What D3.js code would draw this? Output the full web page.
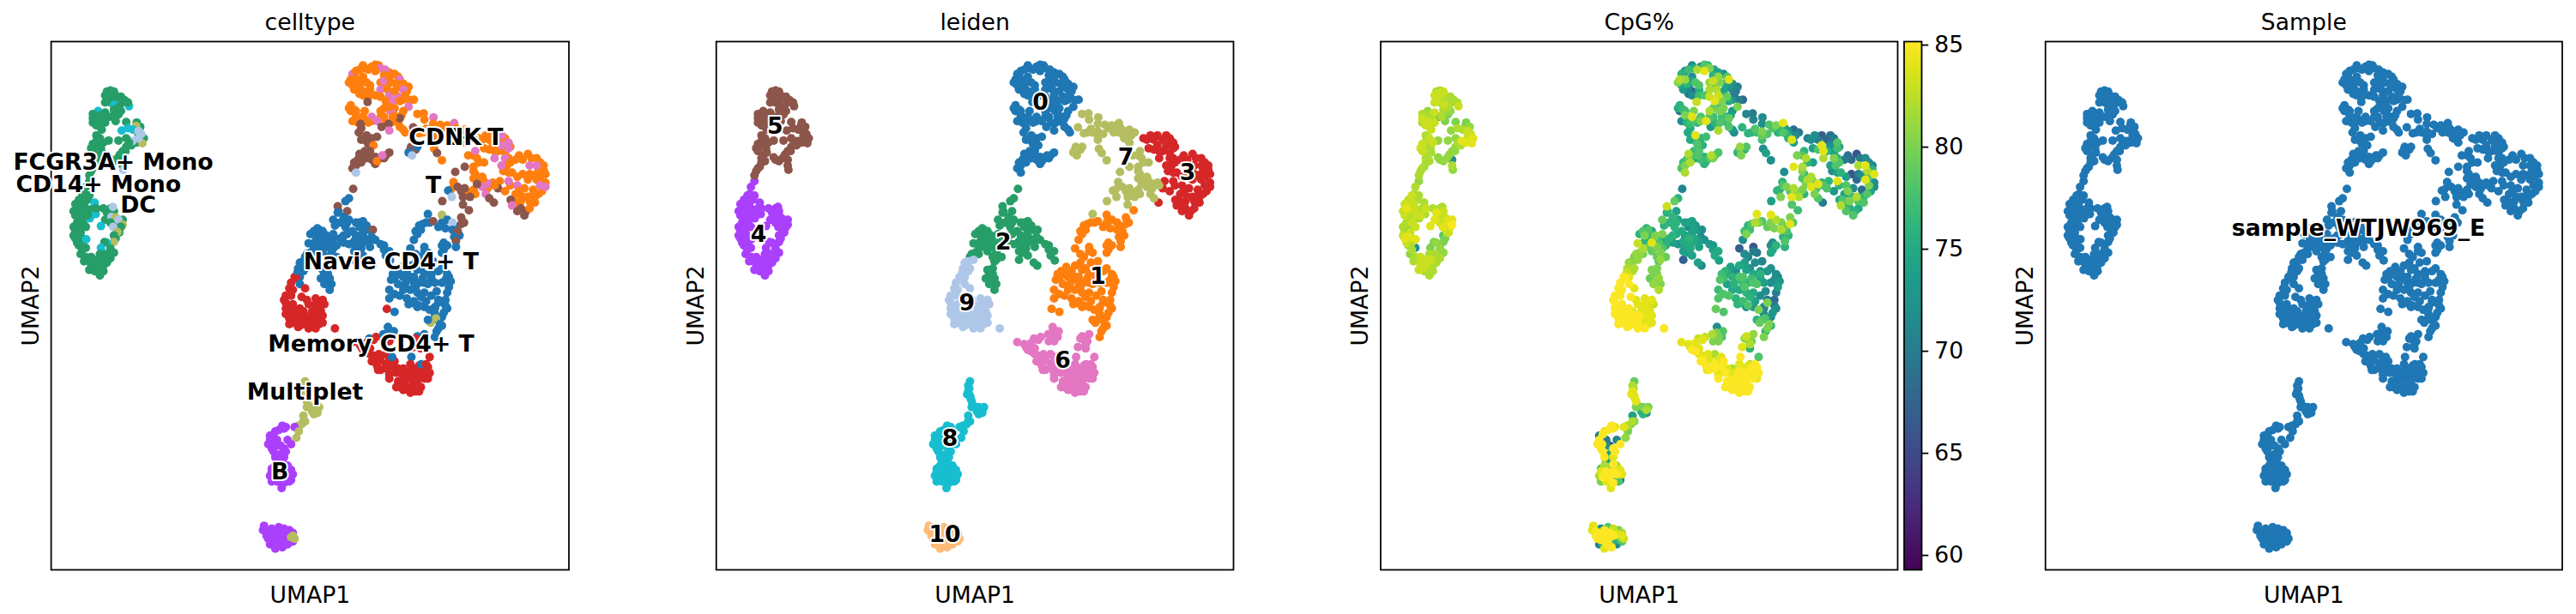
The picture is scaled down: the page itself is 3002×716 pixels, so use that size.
<!DOCTYPE html>
<html><head><meta charset="utf-8">
<script src="https://cdnjs.cloudflare.com/ajax/libs/d3/7.8.5/d3.min.js"></script>
<style>html,body{margin:0;padding:0;background:#fff}svg{display:block}text{font-family:"DejaVu Sans",sans-serif;fill:#000}</style>
</head><body><svg id="fig" width="3002" height="716"></svg>
<script>
// Cell types: index is the third value of each point.
const celltypes=["Navie CD4+ T","T","CD14+ Mono","Memory CD4+ T","B","CD8+ T","NK","Multiplet","FCGR3A+ Mono","DC"];
const celltypeColors=["#1f77b4","#ff7f0e","#279e68","#d62728","#aa40fc","#8c564b","#e377c2","#b5bd61","#17becf","#aec7e8"];
const leidenColors=["#1f77b4","#ff7f0e","#279e68","#d62728","#aa40fc","#8c564b","#e377c2","#b5bd61","#17becf","#aec7e8","#ffbb78"];
const sampleName="sample_WTJW969_E";
// Points: [UMAP1, UMAP2 (picture-down), celltype index, CpG%]
const leiden0=[[900,175,1,72],[930,150,1,75],[950,145,1,71],[970,140,1,76],[1000,165,1,74],[1025,180,1,78],[1050,230,1,70],[885,200,1,80],[910,205,1,76],[900,225,1,73],[945,210,1,78],[925,195,1,74],[975,200,1,81],[990,215,1,79],[1030,215,1,73],[925,245,1,72],[945,245,1,77],[1040,260,1,72],[1060,262,1,70],[885,290,1,75],[905,300,1,76],[930,330,1,78],[950,335,1,80],[975,320,1,78],[990,340,1,76],[1010,335,1,75],[1025,340,1,77],[1035,315,1,74],[1010,300,1,79],[910,340,1,76],[920,360,5,75],[1040,365,1,73],[935,405,5,75],[950,395,5,76],[925,455,5,77],[940,455,5,78],[960,460,5,76],[990,455,5,78],[900,480,5,77],[915,465,5,79],[960,485,5,76],[975,465,5,78],[895,170,6,76],[925,140,1,72],[960,138,1,78],[988,155,6,74],[1015,170,1,72],[905,160,1,73],[915,155,1,77],[940,155,1,82],[975,150,6,80],[890,190,1,82],[905,190,1,81],[925,180,1,72],[985,175,1,76],[1030,190,6,84],[1040,205,1,72],[1055,215,1,71],[895,210,1,74],[915,215,1,72],[935,200,1,78],[985,195,6,83],[1005,200,1,80],[1020,205,1,74],[1040,225,6,71],[925,230,1,68],[915,240,1,70],[945,225,1,75],[975,225,6,82],[995,225,1,82],[1000,245,6,83],[1025,250,6,79],[1045,245,1,70],[1070,260,1,68],[1055,285,6,80],[960,245,1,78],[938,268,5,83],[975,250,1,83],[990,265,1,84],[1010,265,6,80],[1030,265,1,75],[1015,290,1,80],[1040,300,1,73],[890,280,1,76],[900,295,1,77],[890,300,1,68],[905,315,1,80],[895,335,1,72],[925,320,1,84],[950,320,6,78],[975,300,1,82],[985,320,1,77],[1003,300,6,80],[1020,320,1,76],[1030,325,5,79],[940,340,1,76],[918,345,5,77],[965,335,6,84],[1005,340,1,78],[1030,355,1,78],[1045,375,1,72],[998,345,5,76],[978,355,5,73],[1000,368,6,82],[913,375,5,75],[935,385,5,84],[920,400,5,75],[945,400,5,76],[965,390,5,77],[940,415,5,78],[955,420,1,76],[930,440,5,77],[945,440,5,78],[915,450,5,82],[910,470,5,76],[935,465,5,75],[950,470,5,77],[965,475,1,76],[985,465,5,80],[1000,445,5,78],[980,455,6,82],[905,490,5,80],[920,480,5,82],[895,500,5,78],[905,515,9,82],[960,160,1,84],[1000,180,1,81],[1015,230,1,74],[930,300,1,80],[1000,285,1,78],[985,290,1,79],[1010,320,1,77]];
const leiden1=[[1115,690,0,80],[1095,695,0,78],[1075,720,0,77],[1150,690,0,80],[1190,705,0,79],[1200,735,0,76],[1100,790,0,70],[1155,785,0,74],[1155,760,0,72],[1060,840,0,75],[1020,860,0,76],[1015,885,0,77],[1040,880,0,76],[1060,880,0,78],[1085,900,0,76],[1100,900,0,78],[1120,885,0,74],[1140,860,0,73],[1160,890,0,72],[1170,880,0,70],[1045,905,0,76],[1070,900,0,77],[1040,925,0,75],[1015,940,0,78],[1080,935,0,76],[1100,935,0,75],[1055,975,0,76],[1075,975,0,74],[1100,985,0,73],[1165,990,0,72],[1125,1030,0,78],[1140,1030,0,74],[1150,1050,0,76],[1140,1060,0,80],[1130,985,0,71],[1120,860,0,73],[1105,830,0,72],[1085,810,0,71],[1227,647,5,77],[1150,663,7,84],[1205,672,5,80],[1213,690,5,78],[1105,690,0,82],[1085,700,0,76],[1125,685,5,78],[1165,680,0,82],[1180,690,9,80],[1140,705,0,79],[1160,710,0,80],[1180,715,0,82],[1205,695,5,84],[1195,720,5,78],[1185,740,0,76],[1190,755,5,78],[1080,730,0,80],[1070,750,0,72],[1090,715,0,77],[1100,775,0,66],[1060,780,0,67],[1110,795,0,70],[1150,770,0,72],[1165,770,0,76],[1150,795,0,75],[1190,775,0,76],[1075,800,0,72],[1035,845,0,74],[1010,870,0,77],[1005,890,0,78],[1030,870,0,74],[1050,860,0,72],[1075,830,0,74],[1090,850,0,72],[1125,825,0,71],[1150,850,0,72],[1165,870,0,72],[1175,895,0,73],[1170,915,0,74],[1050,890,0,76],[1070,880,0,78],[1095,885,0,77],[1110,905,0,78],[1130,900,0,74],[1150,900,0,72],[1075,915,0,78],[1060,925,0,75],[1025,905,0,74],[1000,925,0,77],[1000,955,0,78],[1030,945,0,78],[1050,955,0,76],[1070,965,0,77],[1090,950,0,76],[1120,945,0,72],[1135,930,0,72],[1080,985,0,72],[1105,965,0,74],[1165,935,0,70],[1160,960,0,68],[1130,990,0,71],[993,992,3,79],[1015,1002,0,78],[1085,980,0,78],[1115,995,0,80],[1140,970,0,80],[1160,980,0,70],[1130,1010,0,72],[1150,1020,0,72],[1133,1025,7,78],[1118,1040,7,79],[1145,1045,0,80],[1135,1070,0,76],[1130,1090,0,80],[1155,1005,0,73],[1110,1030,0,76],[1100,870,0,75],[1120,870,0,76],[1080,855,0,74],[1140,960,0,70]];
const leiden2=[[800,715,0,78],[790,735,0,80],[775,730,0,76],[815,745,0,78],[840,745,0,75],[870,735,0,76],[885,680,0,74],[870,690,0,75],[855,650,0,76],[935,700,0,73],[915,690,0,74],[930,710,0,74],[945,755,0,74],[915,745,0,76],[900,755,0,75],[870,760,0,74],[840,780,0,78],[825,775,0,80],[800,775,0,79],[785,780,0,82],[775,795,0,81],[760,810,0,80],[825,810,0,79],[835,820,0,81],[815,870,0,80],[830,885,0,81],[905,780,0,74],[985,770,0,73],[920,780,0,75],[897,572,5,71],[885,605,0,76],[875,615,0,79],[853,633,5,83],[880,650,5,74],[853,655,0,75],[870,670,0,76],[840,680,0,79],[880,690,0,76],[860,690,0,76],[795,710,0,76],[785,720,0,78],[810,720,0,74],[800,735,0,76],[820,735,0,80],[845,700,0,76],[875,705,0,76],[925,685,0,74],[905,690,0,74],[915,705,0,72],[940,715,0,73],[953,715,5,72],[925,725,0,74],[950,740,0,72],[930,745,0,75],[905,735,0,74],[880,730,0,75],[770,762,0,83],[790,755,0,76],[810,760,0,84],[830,760,0,78],[850,770,0,76],[885,765,0,73],[910,770,0,75],[925,760,0,75],[960,750,0,72],[945,775,0,74],[975,765,0,73],[985,785,0,74],[1000,790,0,75],[990,805,0,75],[765,800,0,81],[785,800,0,80],[810,790,0,79],[835,795,0,80],[850,810,0,79],[910,795,0,74],[925,805,0,74],[900,820,0,67],[942,830,0,74],[952,840,0,72],[1002,822,0,74],[830,825,3,78],[825,850,0,80],[810,855,0,80],[825,870,0,80],[805,885,0,79],[820,895,0,80],[835,905,0,80],[830,925,0,82],[815,905,0,81],[895,720,0,75],[860,745,0,76],[840,730,0,80],[900,790,0,74]];
const leiden3=[[1265,400,1,72],[1285,400,1,70],[1310,400,1,68],[1330,395,1,70],[1345,425,1,73],[1285,435,1,78],[1310,440,1,76],[1330,445,1,74],[1340,465,1,76],[1325,510,1,72],[1335,490,1,78],[1360,470,1,70],[1380,470,1,68],[1405,465,1,70],[1430,480,1,72],[1440,505,1,76],[1430,530,1,78],[1410,525,1,72],[1365,530,1,74],[1345,560,1,76],[1360,590,1,74],[1385,570,1,72],[1410,575,1,68],[1435,580,1,74],[1445,550,1,72],[1415,600,1,76],[1400,615,1,78],[1375,615,1,80],[1355,610,1,78],[1370,630,1,76],[1390,650,5,76],[1405,600,1,72],[1340,515,1,74],[1255,395,1,71],[1275,385,1,72],[1295,385,1,67],[1320,385,6,69],[1340,410,6,78],[1270,430,1,74],[1295,420,1,84],[1320,420,6,72],[1340,430,6,77],[1300,440,1,84],[1330,465,6,80],[1320,490,6,74],[1345,480,1,78],[1370,455,1,69],[1395,450,1,66],[1420,465,1,72],[1440,490,1,71],[1445,520,1,84],[1425,510,1,82],[1400,490,6,82],[1350,515,1,76],[1340,545,6,84],[1315,545,1,76],[1310,570,5,78],[1330,580,1,73],[1365,560,6,78],[1395,540,1,68],[1420,540,1,84],[1445,565,6,72],[1425,590,1,78],[1395,600,1,82],[1370,580,1,80],[1346,610,5,75],[1350,630,6,82],[1365,650,5,78],[1385,665,5,78],[1400,640,1,75],[1415,620,1,78],[1298,620,5,70],[1430,560,6,80],[1380,600,1,76],[1380,520,1,66],[1300,465,6,82],[1420,490,6,84],[1400,520,1,70],[1375,640,5,74]];
const leiden4=[[115,610,2,83],[145,595,2,82],[105,625,2,83],[100,650,2,83],[115,655,2,82],[135,640,2,83],[155,640,2,82],[150,665,2,83],[105,665,2,83],[130,680,2,82],[100,705,2,82],[115,705,2,81],[100,735,2,83],[115,740,2,84],[110,760,2,83],[125,760,2,82],[125,785,2,82],[145,825,2,82],[165,820,2,83],[155,850,2,83],[170,855,2,82],[195,810,2,82],[205,800,2,81],[225,700,2,84],[240,680,2,84],[215,650,2,83],[230,725,2,83],[220,745,2,80],[205,640,2,82],[200,675,2,83],[190,680,2,84],[215,675,2,83],[145,545,2,81],[135,565,2,82],[132,590,2,82],[125,595,2,83],[140,610,2,82],[115,625,2,83],[130,625,2,83],[160,620,8,82],[110,640,2,84],[125,645,2,83],[145,650,2,82],[163,660,8,82],[165,640,2,83],[146,675,8,82],[120,665,2,82],[140,665,2,83],[110,690,2,82],[125,690,2,83],[178,702,8,84],[185,640,2,82],[212,635,9,82],[195,655,2,84],[208,670,9,83],[220,672,7,83],[228,680,9,84],[240,697,7,85],[235,705,2,84],[205,690,2,83],[213,705,9,84],[225,723,7,83],[215,735,2,78],[215,758,7,80],[195,760,8,81],[188,758,2,80],[178,778,8,80],[215,795,2,81],[205,815,2,82],[195,830,2,82],[105,720,2,81],[120,725,2,83],[135,705,2,83],[105,745,2,84],[125,745,2,83],[136,748,8,84],[115,770,2,82],[135,778,2,72],[120,800,2,81],[135,810,2,82],[150,810,2,83],[130,825,2,82],[150,835,2,83],[165,840,2,83],[180,820,2,83],[185,840,2,82],[145,855,2,83],[160,860,2,82],[175,875,2,82],[185,860,2,82],[175,800,2,82],[190,800,2,82],[205,780,2,81]];
const leiden5=[[200,240,2,83],[225,255,2,82],[190,270,2,83],[205,270,2,82],[240,270,2,82],[225,300,2,81],[165,315,2,82],[185,325,2,82],[165,350,2,83],[155,340,2,82],[180,365,2,83],[165,385,2,82],[155,415,2,83],[170,415,2,82],[150,430,2,83],[170,455,2,82],[280,340,2,80],[290,355,2,81],[285,385,2,83],[300,395,2,84],[280,410,2,84],[265,420,2,82],[240,440,2,81],[205,470,2,81],[155,500,2,82],[165,465,2,82],[225,465,2,81],[195,232,2,82],[205,228,2,82],[215,232,2,83],[190,245,2,83],[205,245,2,83],[220,245,2,82],[235,250,2,82],[195,258,2,83],[212,258,2,82],[245,262,2,82],[216,278,8,83],[258,283,8,83],[255,270,2,82],[230,285,2,82],[215,295,2,82],[235,300,2,81],[228,312,2,80],[170,300,8,81],[155,310,2,82],[175,315,2,82],[190,305,2,83],[200,320,2,72],[210,320,2,82],[155,325,2,83],[170,335,2,83],[160,340,2,82],[190,340,2,83],[175,350,2,83],[220,335,2,80],[250,338,2,80],[278,352,7,80],[255,360,8,82],[270,365,8,82],[285,370,9,83],[293,380,9,83],[296,412,7,84],[268,405,9,84],[285,395,9,83],[250,425,2,81],[228,403,2,81],[237,368,8,81],[200,403,2,81],[175,395,2,83],[165,405,2,82],[185,410,2,83],[160,425,2,82],[178,430,2,82],[155,440,2,83],[180,445,2,82],[200,462,2,81],[215,475,2,81],[232,452,2,81],[240,470,2,72],[240,490,2,82],[242,505,9,81],[165,480,2,82],[175,475,2,82],[160,495,2,81],[150,510,2,82],[145,525,2,82],[250,395,2,81],[258,410,2,82],[248,440,2,81]];
const leiden6=[[945,1150,3,84],[955,1170,3,85],[975,1170,3,84],[975,1205,3,85],[990,1200,3,85],[1000,1170,3,84],[1015,1175,3,85],[1020,1215,3,85],[1035,1240,3,85],[1030,1265,3,85],[1045,1245,3,85],[1070,1200,3,84],[1095,1200,3,85],[1110,1195,3,85],[1115,1215,3,85],[1110,1235,3,84],[1070,1225,3,85],[1090,1225,3,85],[1045,1215,3,84],[1065,1265,3,85],[1090,1265,3,85],[1085,1280,3,85],[1060,1285,3,85],[1040,1275,3,85],[1075,1240,3,85],[920,1125,3,84],[935,1140,3,85],[955,1100,3,84],[1085,1100,3,80],[1090,1115,3,82],[995,1075,0,80],[1010,1090,3,78],[895,1108,3,84],[915,1115,3,84],[935,1110,3,84],[943,1095,0,83],[962,1090,3,83],[925,1135,3,85],[945,1130,3,84],[996,1055,0,72],[1013,1070,0,78],[983,1080,0,82],[1000,1090,0,80],[985,1105,0,80],[1000,1105,3,80],[1080,1088,0,83],[1100,1080,0,81],[1095,1105,0,80],[1075,1095,3,81],[1068,1125,3,84],[1090,1130,3,76],[1115,1160,3,78],[955,1155,3,84],[970,1150,3,84],[990,1150,3,82],[1008,1160,0,84],[950,1175,3,85],[965,1190,3,85],[990,1185,3,85],[968,1205,3,84],[1010,1195,3,85],[1000,1220,3,84],[1000,1235,3,85],[1025,1245,3,85],[1020,1265,3,85],[1040,1260,3,84],[1063,1160,0,85],[1060,1185,3,84],[1085,1190,3,84],[1091,1185,0,82],[1105,1185,3,85],[1060,1210,3,85],[1080,1215,3,85],[1105,1210,3,85],[1040,1225,3,84],[1060,1240,3,85],[1100,1235,3,85],[1055,1270,3,85],[1075,1280,3,85],[1025,1200,3,84],[1040,1200,3,82],[1055,1225,3,85],[1080,1250,3,85]];
const leiden7=[[1110,375,1,77],[1125,385,1,79],[1095,375,1,76],[1155,360,1,78],[1175,360,1,76],[1185,375,1,78],[1200,370,1,72],[1200,395,1,76],[1220,385,1,72],[1215,410,1,74],[1075,435,5,76],[1060,435,5,78],[1240,455,1,78],[1255,480,1,76],[1240,510,1,80],[1255,540,1,82],[1280,570,1,78],[1295,550,1,76],[1270,545,1,80],[1205,580,5,78],[1225,585,1,80],[1245,590,1,76],[1185,560,1,78],[1175,575,1,76],[1080,310,1,71],[1098,308,1,70],[1126,322,6,72],[1100,330,1,71],[1125,345,1,72],[1068,357,5,76],[1085,378,1,76],[1105,362,1,78],[1125,372,1,80],[1140,380,1,78],[1125,400,1,77],[1145,348,1,78],[1165,350,1,80],[1185,342,6,84],[1190,360,1,74],[1215,365,1,68],[1170,375,1,76],[1195,380,1,76],[1210,400,1,84],[1230,375,1,70],[1062,425,5,81],[1080,425,0,78],[1055,445,0,76],[1065,455,9,80],[1128,432,1,72],[1136,447,5,74],[1150,472,1,72],[1245,440,6,76],[1225,455,1,80],[1250,465,1,82],[1270,480,1,74],[1240,495,1,82],[1215,495,5,84],[1188,513,5,72],[1245,520,1,76],[1265,530,1,82],[1240,535,1,78],[1285,555,6,84],[1300,560,1,78],[1183,548,1,76],[1195,565,5,80],[1215,570,5,82],[1168,578,0,76],[1178,600,9,80],[1240,575,1,80],[1265,565,6,84],[1275,590,6,80],[1285,605,5,78],[1230,600,5,82],[1210,600,5,84],[1151,615,5,74],[1210,627,5,78],[1250,555,5,80],[1110,660,0,84]];
const leiden8=[[695,1400,4,85],[675,1420,4,84],[660,1435,4,70],[655,1465,4,85],[668,1465,4,85],[680,1470,4,72],[700,1480,4,85],[675,1510,4,85],[695,1520,4,74],[680,1525,4,72],[700,1510,4,84],[665,1550,4,78],[690,1545,4,80],[710,1540,4,82],[660,1575,4,82],[675,1575,4,85],[695,1570,4,84],[710,1570,4,85],[725,1570,4,84],[665,1595,4,80],[700,1600,4,85],[720,1590,4,70],[758,1270,7,82],[752,1290,7,84],[762,1305,7,84],[770,1330,7,80],[780,1350,7,76],[795,1355,7,72],[800,1335,7,80],[760,1385,7,80],[750,1395,7,80],[740,1410,7,78],[760,1245,7,79],[755,1260,7,82],[755,1280,7,84],[760,1295,7,84],[765,1315,7,84],[765,1335,7,80],[785,1335,7,80],[795,1345,7,82],[785,1360,7,76],[755,1365,7,74],[755,1385,7,82],[740,1400,7,82],[730,1405,4,84],[742,1420,7,80],[735,1442,7,81],[705,1405,4,84],[685,1415,4,85],[670,1430,4,85],[660,1450,4,85],[680,1450,4,70],[700,1410,4,85],[665,1480,4,85],[690,1470,4,66],[710,1450,4,71],[720,1465,4,85],[670,1490,4,85],[690,1500,4,74],[705,1490,4,85],[690,1520,4,74],[675,1540,4,82],[700,1535,4,85],[665,1560,4,84],[680,1560,4,85],[700,1560,4,85],[720,1555,4,84],[670,1580,4,85],[690,1585,4,85],[710,1585,4,72],[680,1595,4,84],[715,1595,4,78],[693,1618,4,84]];
const leiden9=[[705,990,3,85],[725,990,3,85],[745,990,3,85],[765,960,3,84],[775,1015,3,85],[795,1005,3,84],[705,1010,3,85],[720,1015,3,85],[745,1025,3,85],[770,1040,3,85],[800,1045,3,84],[715,1045,3,85],[730,1020,3,85],[755,1015,3,85],[730,880,3,85],[745,880,0,84],[715,920,3,85],[700,960,3,85],[790,975,3,84],[800,965,3,84],[810,1015,3,84],[770,1060,3,85],[795,1040,3,84],[745,830,0,81],[738,865,0,83],[755,860,0,82],[755,825,0,80],[770,820,0,81],[740,850,0,82],[760,850,0,82],[735,885,3,85],[720,900,3,85],[745,905,0,85],[725,925,3,85],[705,945,3,85],[720,945,3,85],[750,950,3,85],[760,920,3,84],[790,955,3,84],[810,960,3,84],[705,970,3,85],[725,975,3,85],[770,975,3,84],[795,985,3,84],[815,975,3,83],[715,1000,3,85],[735,1010,3,85],[755,1000,3,84],[780,1000,3,84],[805,1000,3,84],[715,1025,3,85],[735,1035,3,85],[760,1030,3,85],[785,1030,3,84],[800,1020,3,84],[810,1040,3,84],[760,1045,3,85],[790,1060,3,85],[780,1050,3,84],[745,1050,3,85],[845,1060,3,85],[725,1040,3,85],[740,1055,3,85]];
const leiden10=[[640,1765,4,84],[655,1795,4,85],[660,1815,4,70],[675,1830,4,84],[695,1825,4,85],[710,1815,4,72],[725,1805,4,78],[700,1785,4,85],[675,1765,4,85],[690,1790,4,84],[715,1765,4,80],[660,1775,4,85],[730,1795,7,83],[643,1750,4,84],[650,1770,4,85],[665,1760,4,72],[685,1755,4,78],[700,1760,4,83],[725,1775,4,82],[650,1785,4,85],[670,1780,4,85],[690,1775,4,85],[710,1780,4,84],[665,1800,4,85],[685,1800,4,85],[705,1800,4,76],[725,1785,7,84],[720,1790,7,80],[670,1815,4,75],[690,1820,4,85],[680,1810,4,85]];
const clusters=[leiden0,leiden1,leiden2,leiden3,leiden4,leiden5,leiden6,leiden7,leiden8,leiden9,leiden10];
const celltypeLabels=[["FCGR3A+ Mono",213,475],["CD14+ Mono",171,555],["DC",284,627],["CD8+ T",1190,390],["NK",1210,390],["T",1126,557],["Navie CD4+ T",1005,825],["Memory CD4+ T",948,1112],["Multiplet",760,1280],["B",688,1560]];
const leidenLabels=[["0",961,267],["1",1125,875],["2",855,755],["3",1381,513],["4",157,728],["5",204,350],["6",1025,1168],["7",1205,457],["8",703,1443],["9",751,968],["10",688,1778]];
const sampleLabels=[[sampleName,930,707]];
const colorbarTicks=[60,65,70,75,80,85];
const cpgDomain=[59.27,85.15];
const xDomain=[36,1512],yDomain=[57,1904];

const points=clusters.flatMap((c,i)=>c.map(p=>({x:p[0],y:p[1],ct:p[2],cpg:p[3],cl:i})));
const viridis=d3.scaleSequential(d3.interpolateViridis).domain(cpgDomain);
const svg=d3.select("#fig");
const panelTop=48.5,panelBottom=664.5,FS=26.67,LW=1.78;
const panels=[
 {title:"celltype",left:59.6,right:663,color:d=>celltypeColors[d.ct],labels:celltypeLabels},
 {title:"leiden",left:834.7,right:1437.5,color:d=>leidenColors[d.cl],labels:leidenLabels},
 {title:"CpG%",left:1609,right:2211.5,color:d=>viridis(d.cpg),labels:[],sorted:true},
 {title:"Sample",left:2383.7,right:2986,color:()=>"#1f77b4",labels:sampleLabels}
];
panels.forEach(p=>{
 const x=d3.scaleLinear().domain(xDomain).range([p.left,p.right]);
 const y=d3.scaleLinear().domain(yDomain).range([panelTop,panelBottom]);
 const g=svg.append("g");
 const data=p.sorted?d3.sort(points,d=>d.cpg):points;
 g.selectAll("circle").data(data).join("circle")
  .attr("cx",d=>x(d.x)).attr("cy",d=>y(d.y)).attr("r",5).attr("fill",p.color);
 g.append("rect").attr("x",p.left).attr("y",panelTop).attr("width",p.right-p.left).attr("height",panelBottom-panelTop)
  .attr("fill","none").attr("stroke","#000").attr("stroke-width",LW);
 const mid=(p.left+p.right)/2;
 g.append("text").attr("x",mid).attr("y",panelTop-14).attr("text-anchor","middle").attr("font-size",FS).text(p.title);
 g.append("text").attr("x",mid).attr("y",panelBottom+38).attr("text-anchor","middle").attr("font-size",FS).text("UMAP1");
 g.append("text").attr("transform",`translate(${p.left-15},${(panelTop+panelBottom)/2}) rotate(-90)`).attr("text-anchor","middle").attr("font-size",FS).text("UMAP2");
 g.selectAll("text.lab").data(p.labels).join("text").attr("class","lab")
  .attr("x",d=>x(d[1])).attr("y",d=>y(d[2])).attr("dy","0.36em").attr("text-anchor","middle")
  .attr("font-size",FS).attr("font-weight","bold").attr("stroke","#fff").attr("stroke-width",4)
  .attr("stroke-linejoin","round").attr("paint-order","stroke").text(d=>d[0]);
});
// colorbar
const cbL=2219,cbR=2239.5;
const defs=svg.append("defs");
const grad=defs.append("linearGradient").attr("id","vir").attr("x1",0).attr("x2",0).attr("y1",1).attr("y2",0);
d3.range(0,1.0001,0.05).forEach(t=>grad.append("stop").attr("offset",t).attr("stop-color",d3.interpolateViridis(t)));
svg.append("rect").attr("x",cbL).attr("y",panelTop).attr("width",cbR-cbL).attr("height",panelBottom-panelTop).attr("fill","url(#vir)").attr("stroke","#000").attr("stroke-width",LW);
const cbScale=d3.scaleLinear().domain(cpgDomain).range([panelBottom,panelTop]);
const cbAxis=svg.append("g").attr("transform",`translate(${cbR},0)`).call(d3.axisRight(cbScale).tickValues(colorbarTicks).tickSize(7.8).tickPadding(7).tickSizeOuter(0));
cbAxis.select(".domain").remove();
cbAxis.selectAll("line").attr("stroke","#000").attr("stroke-width",LW);
cbAxis.selectAll("text").attr("font-size",FS).style("font-family",'"DejaVu Sans",sans-serif');
</script></body></html>
